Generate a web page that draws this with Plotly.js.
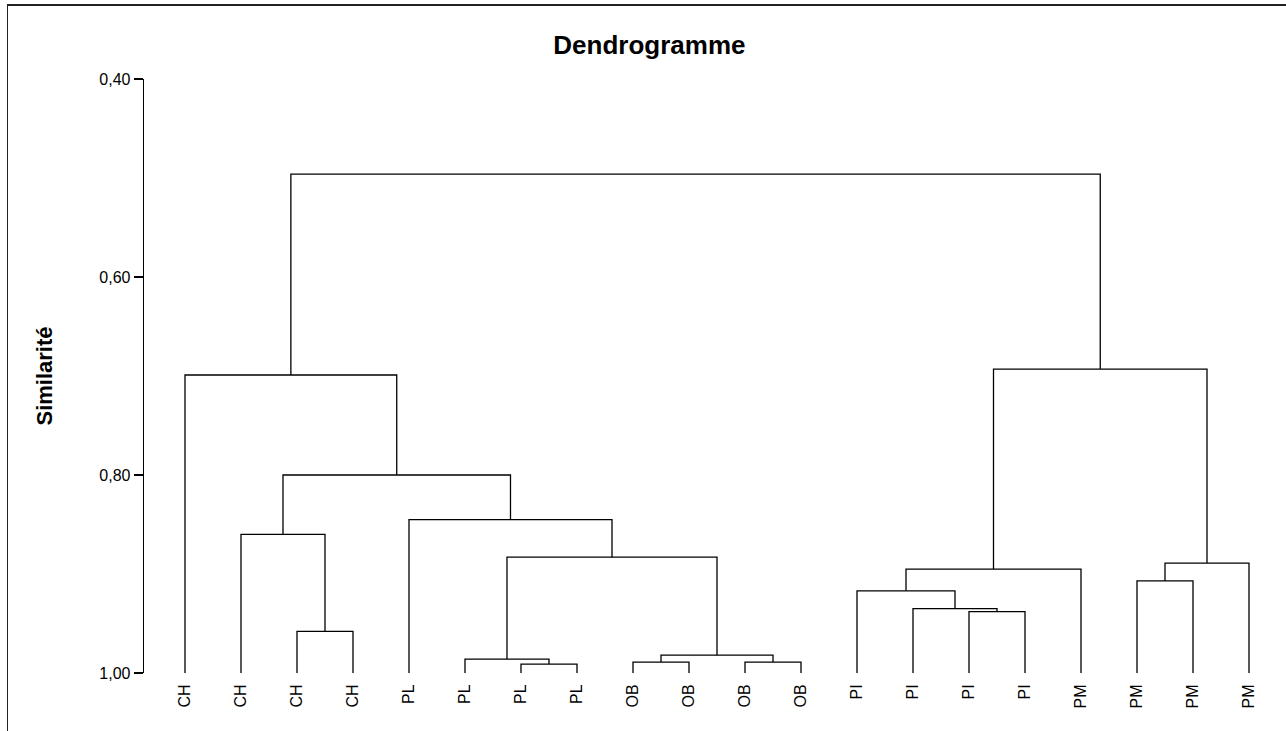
<!DOCTYPE html>
<html>
<head>
<meta charset="utf-8">
<script src="https://cdn.plot.ly/plotly-3.0.1.min.js"></script>
<style>
  html, body { margin: 0; padding: 0; background: #fff; overflow: hidden; }
  #chart { width: 1286px; height: 731px; }
  #frame {
    position: absolute; left: 7px; top: 4px; width: 1300px; height: 760px;
    border-left: 1.5px solid #222; border-top: 2px solid #222;
    pointer-events: none; box-sizing: border-box;
  }
</style>
</head>
<body>
<div id="chart"></div>
<div id="frame"></div>
<script>
// Leaves of the dendrogram, left to right
const leafLabels = ['CH','CH','CH','CH','PL','PL','PL','PL','OB','OB','OB','OB',
                    'PI','PI','PI','PI','PM','PM','PM','PM'];

// Agglomeration steps: node 20+k joins mergeLeft[k] and mergeRight[k]
// at similarity mergeSimilarity[k]
const mergeLeft  = [2, 1, 6, 5, 8, 10, 24, 23, 4, 21, 0, 14, 13, 12, 33, 17, 35, 34, 30];
const mergeRight = [3, 20, 7, 22, 9, 11, 25, 26, 27, 28, 29, 15, 31, 32, 16, 18, 19, 36, 37];
const mergeSimilarity = [0.958, 0.860, 0.991, 0.986, 0.989, 0.989, 0.982, 0.883, 0.845,
                         0.800, 0.699, 0.938, 0.935, 0.917, 0.895, 0.907, 0.889, 0.693, 0.496];

// Similarity axis ticks
const simTicks = [0.40, 0.60, 0.80, 1.00];

// Position of every node: leaves sit at their index and similarity 1,
// inner nodes sit midway between their children at the merge level
const nodeX = leafLabels.map((_, i) => i);
const nodeY = leafLabels.map(() => 1.0);
const xs = [], ys = [];
mergeLeft.forEach((a, k) => {
  const b = mergeRight[k], h = mergeSimilarity[k];
  xs.push(nodeX[a], nodeX[a], nodeX[b], nodeX[b], null);
  ys.push(nodeY[a], h, h, nodeY[b], null);
  nodeX.push((nodeX[a] + nodeX[b]) / 2);
  nodeY.push(h);
});

const trace = {
  type: 'scatter', mode: 'lines', x: xs, y: ys,
  line: { color: '#000', width: 1.3 },
  hoverinfo: 'skip', showlegend: false
};

const font = 'Liberation Sans, Arial, sans-serif';
const layout = {
  width: 1286, height: 731,
  margin: { l: 144, r: 16, t: 79, b: 58 },
  paper_bgcolor: '#fff', plot_bgcolor: '#fff',
  separators: ', ',
  font: { family: font, color: '#000' },
  title: {
    text: 'Dendrogramme',
    font: { family: font, size: 26, weight: 'bold', color: '#000' },
    xref: 'container', x: 0.505, xanchor: 'center',
    yref: 'container', y: 1 - 45 / 731, yanchor: 'middle'
  },
  xaxis: {
    range: [-0.732, 19.375],
    tickmode: 'array',
    tickvals: leafLabels.map((_, i) => i),
    ticktext: leafLabels,
    tickangle: -90,
    ticks: 'outside', ticklen: 4, tickcolor: 'rgba(0,0,0,0)',
    tickfont: { family: font, size: 16, color: '#000' },
    showline: false, showgrid: false, zeroline: false,
    automargin: false, fixedrange: true
  },
  yaxis: {
    range: [1.0, 0.4],
    tickmode: 'array', tickvals: simTicks,
    tickformat: '.2f',
    ticks: 'outside', ticklen: 9, tickwidth: 1.3, tickcolor: '#000',
    tickfont: { family: font, size: 16, color: '#000' },
    showline: true, linecolor: '#000', linewidth: 1.3,
    showgrid: false, zeroline: false,
    title: {
      text: 'Similarité',
      font: { family: font, size: 22, weight: 'bold', color: '#000' },
      standoff: 40
    },
    automargin: false, fixedrange: true
  }
};

Plotly.newPlot('chart', [trace], layout, { displayModeBar: false, staticPlot: true });
</script>
</body>
</html>
